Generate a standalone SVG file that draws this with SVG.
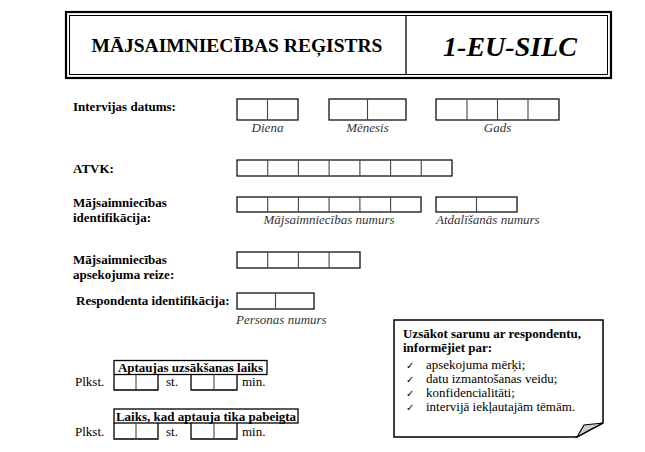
<svg xmlns="http://www.w3.org/2000/svg" width="645" height="452" viewBox="0 0 645 452">
<style>
.lbl{font-family:"Liberation Serif","Times New Roman","DejaVu Serif",serif;font-weight:bold;font-size:13px;fill:#000}
.cap{font-family:"Liberation Serif","Times New Roman","DejaVu Serif",serif;font-style:italic;font-size:13px;fill:#333}
.txt{font-family:"Liberation Serif","Times New Roman","DejaVu Serif",serif;font-size:13px;fill:#000}
.chk{font-family:"DejaVu Sans",sans-serif;font-size:10px;fill:#000}
.cell{fill:#fff;stroke:#111;stroke-width:1.3}
.div{stroke:#444;stroke-width:1.1}
.ttl{font-family:"Liberation Serif","Times New Roman","DejaVu Serif",serif;font-weight:bold}
</style>
<rect width="645" height="452" fill="#fff"/>
<g id="header">
<rect x="66" y="12" width="545" height="66" fill="#fff" stroke="#000" stroke-width="2.2"/>
<rect x="69.5" y="15.5" width="538" height="59" fill="none" stroke="#000" stroke-width="1"/>
<line x1="406" y1="15.5" x2="406" y2="74.5" stroke="#000" stroke-width="1.3"/>
<text class="ttl" x="237" y="52" text-anchor="middle" font-size="19.5">MĀJSAIMNIECĪBAS REĢISTRS</text>
<text class="ttl" x="510" y="56" text-anchor="middle" font-style="italic" font-size="28">1-EU-SILC</text>
</g>
<g id="interview-date">
<text class="lbl" x="73" y="111">Intervijas datums:</text>
<rect class="cell" x="237" y="99" width="61" height="21"/><line class="div" x1="267.5" y1="99" x2="267.5" y2="120"/>
<text class="cap" x="267.5" y="132" text-anchor="middle">Diena</text>
<rect class="cell" x="329" y="99" width="77" height="21"/><line class="div" x1="367.5" y1="99" x2="367.5" y2="120"/>
<text class="cap" x="367.5" y="132" text-anchor="middle">Mēnesis</text>
<rect class="cell" x="436" y="99" width="123" height="21"/>
<line class="div" x1="467" y1="99" x2="467" y2="120"/><line class="div" x1="497.5" y1="99" x2="497.5" y2="120"/><line class="div" x1="528" y1="99" x2="528" y2="120"/>
<text class="cap" x="497.5" y="132" text-anchor="middle">Gads</text>
</g>
<g id="atvk">
<text class="lbl" x="73" y="173">ATVK:</text>
<rect class="cell" x="237" y="160" width="215" height="16"/>
<line class="div" x1="267.7" y1="160" x2="267.7" y2="176"/><line class="div" x1="298.4" y1="160" x2="298.4" y2="176"/><line class="div" x1="329.1" y1="160" x2="329.1" y2="176"/><line class="div" x1="359.9" y1="160" x2="359.9" y2="176" stroke-width="1.5" stroke="#111"/><line class="div" x1="390.6" y1="160" x2="390.6" y2="176"/><line class="div" x1="421.3" y1="160" x2="421.3" y2="176"/>
</g>
<g id="household-id">
<text class="lbl" x="73" y="207">Mājsaimniecības</text>
<text class="lbl" x="73" y="222">identifikācija:</text>
<rect class="cell" x="237" y="197" width="184" height="15"/>
<line class="div" x1="267.7" y1="197" x2="267.7" y2="212"/><line class="div" x1="298.4" y1="197" x2="298.4" y2="212"/><line class="div" x1="329.1" y1="197" x2="329.1" y2="212"/><line class="div" x1="359.9" y1="197" x2="359.9" y2="212" stroke-width="1.5" stroke="#111"/><line class="div" x1="390.6" y1="197" x2="390.6" y2="212"/>
<text class="cap" x="329" y="224" text-anchor="middle">Mājsaimniecības numurs</text>
<rect class="cell" x="436" y="197" width="81" height="15"/><line class="div" x1="476.5" y1="197" x2="476.5" y2="212"/>
<text class="cap" x="436" y="224">Atdalīšanās numurs</text>
</g>
<g id="survey-round">
<text class="lbl" x="73" y="264">Mājsaimniecības</text>
<text class="lbl" x="73" y="279">apsekojuma reize:</text>
<rect class="cell" x="237" y="252" width="123" height="16"/>
<line class="div" x1="267.7" y1="252" x2="267.7" y2="268"/><line class="div" x1="298.4" y1="252" x2="298.4" y2="268"/><line class="div" x1="329.1" y1="252" x2="329.1" y2="268"/>
</g>
<g id="respondent-id">
<text class="lbl" x="76" y="305">Respondenta identifikācija:</text>
<rect class="cell" x="237" y="293" width="77" height="16"/><line class="div" x1="275.5" y1="293" x2="275.5" y2="309"/>
<text class="cap" x="236" y="324">Personas numurs</text>
</g>
<g id="start-time">
<rect x="114" y="360.5" width="153" height="14" fill="#fff" stroke="#000" stroke-width="1.3"/>
<text x="190.5" y="372" text-anchor="middle" class="lbl" font-size="12.5">Aptaujas uzsākšanas laiks</text>
<text class="txt" x="75" y="386">Plkst.</text>
<polyline points="114,374.5 114,390 158,390 158,374.5" fill="none" stroke="#000" stroke-width="1.3"/>
<line class="div" x1="136" y1="374.5" x2="136" y2="390"/>
<text class="txt" x="166" y="386">st.</text>
<polyline points="191,374.5 191,390 237,390 237,374.5" fill="none" stroke="#000" stroke-width="1.3"/>
<line class="div" x1="214" y1="374.5" x2="214" y2="390"/>
<text class="txt" x="242" y="386">min.</text>
</g>
<g id="end-time">
<rect x="114" y="409" width="184" height="14" fill="#fff" stroke="#000" stroke-width="1.3"/>
<text x="206" y="420.5" text-anchor="middle" class="lbl" font-size="12.5">Laiks, kad aptauja tika pabeigta</text>
<text class="txt" x="75" y="436">Plkst.</text>
<polyline points="114,423 114,439 158,439 158,423" fill="none" stroke="#000" stroke-width="1.3"/>
<line class="div" x1="136" y1="423" x2="136" y2="439"/>
<text class="txt" x="166" y="436">st.</text>
<polyline points="191,423 191,439 237,439 237,423" fill="none" stroke="#000" stroke-width="1.3"/>
<line class="div" x1="214" y1="423" x2="214" y2="439"/>
<text class="txt" x="242" y="436">min.</text>
</g>
<g id="note">
<path d="M394,320 H603 V423 L577,437 H394 Z" fill="#fff" stroke="#000" stroke-width="1.5"/>
<path d="M577,437 Q591,429 603,423 L584,425 Z" fill="#ccc" stroke="#000" stroke-width="1.2"/>
<text class="lbl" x="403" y="338">Uzsākot sarunu ar respondentu,</text>
<text class="lbl" x="403" y="352">informējiet par:</text>
<text class="chk" x="406" y="369">✓</text>
<text class="txt" x="426" y="369">apsekojuma mērķi;</text>
<text class="chk" x="406" y="383">✓</text>
<text class="txt" x="426" y="383">datu izmantošanas veidu;</text>
<text class="chk" x="406" y="397">✓</text>
<text class="txt" x="426" y="397">konfidencialitāti;</text>
<text class="chk" x="406" y="411">✓</text>
<text class="txt" x="426" y="411">intervijā iekļautajām tēmām.</text>
</g>
</svg>
